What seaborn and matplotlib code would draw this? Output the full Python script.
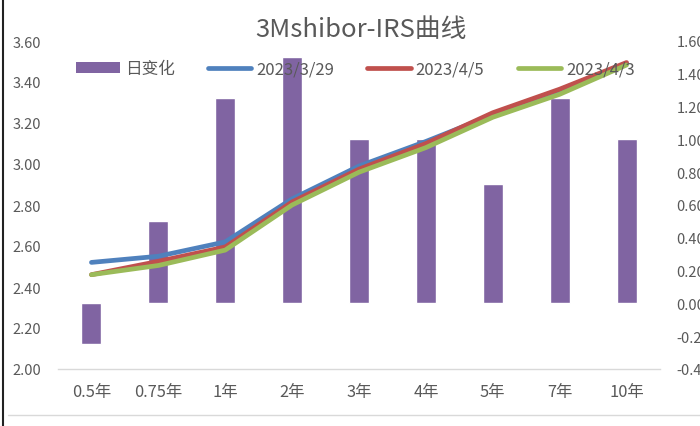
import matplotlib
matplotlib.use("Agg")
import matplotlib.pyplot as plt
from matplotlib.lines import Line2D
from matplotlib.patches import Patch
import seaborn as sns
import pandas as pd

# ---- data ----
tenors = ["0.5年", "0.75年", "1年", "2年", "3年", "4年", "5年", "7年", "10年"]
daily_change = [-0.25, 0.50, 1.25, 1.50, 1.00, 1.00, 0.73, 1.25, 1.00]
curve_0329 = [2.52, 2.55, 2.62, 2.83, 2.99, 3.11, 3.24, 3.36, 3.49]
curve_0405 = [2.46, 2.525, 2.595, 2.815, 2.975, 3.10, 3.25, 3.365, 3.495]
curve_0403 = [2.46, 2.505, 2.58, 2.80, 2.96, 3.08, 3.228, 3.34, 3.483]
series_names = ["2023/3/29", "2023/4/5", "2023/4/3"]
bar_name = "日变化"
title = "3Mshibor-IRS曲线"
left_ticks = [2.00, 2.20, 2.40, 2.60, 2.80, 3.00, 3.20, 3.40, 3.60]
right_ticks = [-0.4, -0.2, 0.0, 0.2, 0.4, 0.6, 0.8, 1.0, 1.2, 1.4, 1.6]

sns.set_style("white")
plt.rcParams["font.family"] = ["Noto Sans CJK SC", "DejaVu Sans"]

bar_color = "#8064A2"
line_colors = ["#4F81BD", "#C0504D", "#9BBB59"]
grey = "#595959"

fig = plt.figure(figsize=(7.0, 4.27), dpi=100)
ax = fig.add_axes([58/700, 1-370/427, (660-58)/700, (370-42)/427])
ax2 = ax.twinx()

bars_df = pd.DataFrame({"tenor": tenors, "chg": daily_change})
sns.barplot(data=bars_df, x="tenor", y="chg", ax=ax2, color=bar_color,
            saturation=1, width=0.3, order=tenors)

lines_df = pd.DataFrame({
    "tenor": tenors * 3,
    "rate": curve_0329 + curve_0405 + curve_0403,
    "date": [series_names[0]] * 9 + [series_names[1]] * 9 + [series_names[2]] * 9,
})
sns.lineplot(data=lines_df, x="tenor", y="rate", hue="date", ax=ax,
             palette=dict(zip(series_names, line_colors)), linewidth=3.4,
             sort=False, legend=False)

ax.set_zorder(ax2.get_zorder() + 1)
ax.patch.set_visible(False)

ax.set_ylim(2.0, 3.6)
ax2.set_ylim(-0.4, 1.6)
ax.set_xlim(-0.5, len(tenors) - 0.5)
ax.set_yticks(left_ticks)
ax.set_yticklabels([f"{v:.2f}" for v in left_ticks])
ax2.set_yticks(right_ticks)
ax2.set_yticklabels([f"{v:.2f}" for v in right_ticks])

for a in (ax, ax2):
    a.set_xlabel("")
    a.set_ylabel("")
    for s in ("top", "left", "right", "bottom"):
        a.spines[s].set_visible(False)
    a.tick_params(length=0, labelsize=10.5, labelcolor=grey)
ax.spines["bottom"].set_visible(True)
ax.spines["bottom"].set_color("#D9D9D9")
ax.spines["bottom"].set_linewidth(1.0)
ax.tick_params(axis="y", pad=12)
ax.tick_params(axis="x", pad=10, labelsize=11.8)
ax2.tick_params(axis="y", pad=12)

handles = [Patch(facecolor=bar_color, edgecolor="none", label=bar_name)]
for n, c in zip(series_names, line_colors):
    handles.append(Line2D([0], [0], color=c, linewidth=3.4, label=n))
leg = ax.legend(handles=handles, loc="center", bbox_to_anchor=(0.494, 0.915),
                ncol=4, frameon=False, fontsize=12, handlelength=2.6,
                handletextpad=0.3, columnspacing=2.0)
for t in leg.get_texts():
    t.set_color(grey)

fig.text(361/700, 1-30/427, title, ha="center", va="center",
         fontsize=18.5, color=grey)

# outer frame hints
fig.add_artist(Line2D([3/700, 3/700], [0, 1], color="#222222", linewidth=1.5,
                      transform=fig.transFigure))
fig.add_artist(Line2D([8/700, 1], [1-416/427, 1-416/427], color="#D9D9D9",
                      linewidth=1.0, transform=fig.transFigure))

fig.savefig("out.png", dpi=100)
